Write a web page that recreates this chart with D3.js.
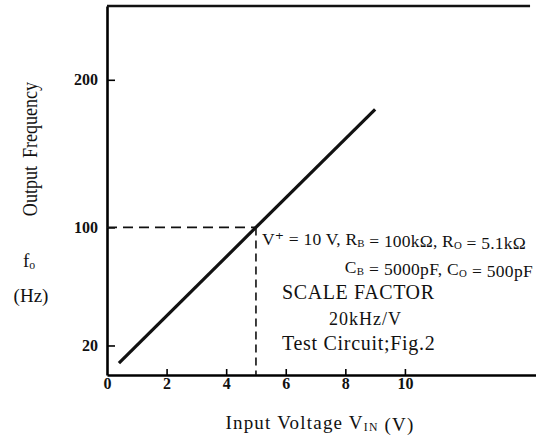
<!DOCTYPE html>
<html lang="en">
<head>
<meta charset="UTF-8">
<script src="https://cdn.jsdelivr.net/npm/d3@7"></script>
<style>
	body { margin: 0; background: #fff; }
	svg text { font-family: "Liberation Serif", "DejaVu Serif", serif; fill: #111; }
	.tick text { font-weight: bold; font-size: 16px; }
</style>
</head>
<body>
<script>
// characteristic line: input voltage (V) vs output frequency (kHz)
const lineVin = [0.4, 9];
const lineFreq = [8, 180];
const xTicks = [2, 4, 6, 8, 10];
const xTickLabels = ["0", "2", "4", "6", "8", "10"];
const yTicks = [20, 100, 200];
const markV = 5, markF = 100;
const notes = [
	"V⁺ = 10 V, R_B = 100kΩ, R_O = 5.1kΩ",
	"C_B = 5000pF, C_O = 500pF",
	"SCALE  FACTOR",
	"20kHz/V",
	"Test Circuit;Fig.2"
];

const W = 536, H = 438;
const svg = d3.select("body").append("svg").attr("width", W).attr("height", H);

const x = d3.scaleLinear().domain([0, 14.4]).range([107, 536]);
const y = d3.scaleLinear().domain([0, 250]).range([375, 6]);

// bottom axis
const xAxis = svg.append("g").attr("transform", `translate(0,${y(0)})`)
	.call(d3.axisBottom(x).tickValues([0].concat(xTicks)).tickSize(-6).tickSizeOuter(0).tickPadding(3)
		.tickFormat((d, i) => xTickLabels[i]));
xAxis.select(".domain").attr("stroke-width", 2.6);
xAxis.selectAll(".tick line").attr("stroke-width", 1.6).filter(d => d === 0).remove();
xAxis.selectAll(".tick text").attr("fill", "#111");

// left axis
const yAxis = svg.append("g").attr("transform", `translate(${x(0)},0)`)
	.call(d3.axisLeft(y).tickValues(yTicks).tickSize(-8).tickSizeOuter(0).tickPadding(9));
yAxis.select(".domain").attr("stroke-width", 2.6);
yAxis.selectAll(".tick line").attr("stroke-width", 1.6);
yAxis.selectAll(".tick text").attr("fill", "#111");

// top frame line
svg.append("line")
	.attr("x1", x(0)).attr("x2", x(14.2))
	.attr("y1", y(250)).attr("y2", y(250))
	.attr("stroke", "#111").attr("stroke-width", 2.4);

// dashed guides at 5 V / 100
svg.append("line")
	.attr("x1", x(0)).attr("x2", x(markV))
	.attr("y1", y(markF)).attr("y2", y(markF))
	.attr("stroke", "#111").attr("stroke-width", 1.6).attr("stroke-dasharray", "10,6");
svg.append("line")
	.attr("x1", x(markV)).attr("x2", x(markV))
	.attr("y1", y(markF)).attr("y2", y(0))
	.attr("stroke", "#111").attr("stroke-width", 1.6).attr("stroke-dasharray", "8,5");

// characteristic line
svg.append("path")
	.datum(lineVin.map((v, i) => [v, lineFreq[i]]))
	.attr("fill", "none").attr("stroke", "#111").attr("stroke-width", 3.2)
	.attr("d", d3.line().x(d => x(d[0])).y(d => y(d[1])));

// text with "_X" subscripts
function addText(str, px, py, size, anchor, spacing) {
	const t = svg.append("text").attr("x", px).attr("y", py)
		.attr("font-size", size).attr("text-anchor", anchor || "start")
		.attr("letter-spacing", spacing || 0);
	str.split(/(_[A-Za-z]+)/).forEach(part => {
		if (!part) return;
		if (part[0] === "_") {
			t.append("tspan").attr("font-size", size * 0.62).attr("dy", 2).text(part.slice(1));
			t.append("tspan").attr("dy", -2).text("");
		} else {
			t.append("tspan").text(part);
		}
	});
	return t;
}

addText(notes[0], 262, 245, 17.5, "start", 0.2);
addText(notes[1], 533, 273, 17.5, "end", 0.3);
addText(notes[2], 282, 299, 20, "start", 0.6);
addText(notes[3], 329, 325, 18, "start", 1);
addText(notes[4], 282, 350, 20, "start", 0.7);

// axis titles
svg.append("text").attr("transform", "translate(37,149) rotate(-90) scale(0.86,1)")
	.attr("text-anchor", "middle").attr("font-size", 21).attr("word-spacing", 4)
	.text("Output Frequency");
addText("f_o", 29, 267, 19, "middle");
svg.append("text").attr("x", 31).attr("y", 302).attr("text-anchor", "middle")
	.attr("font-size", 19).text("(Hz)");
addText("Input  Voltage  V_IN  (V)", 320, 429, 19, "middle", 1.2);
</script>
</body>
</html>
